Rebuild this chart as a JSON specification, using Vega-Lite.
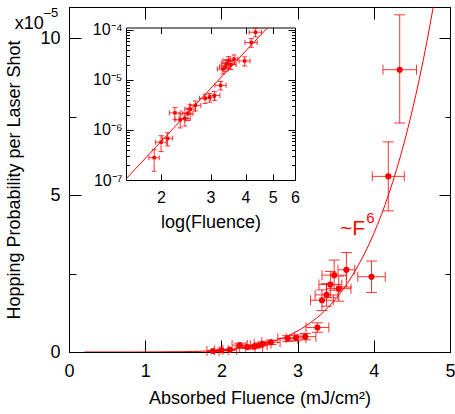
{
  "$schema": "https://vega.github.io/schema/vega-lite/v6.json",
  "width": 381,
  "height": 345,
  "autosize": {"type": "none"},
  "padding": {"left": 69, "top": 7, "right": 5, "bottom": 62},
  "background": "white",
  "config": {
    "view": {"stroke": "black", "strokeWidth": 1},
    "axis": {
      "grid": false,
      "domainColor": "black",
      "tickColor": "black",
      "labelColor": "black",
      "titleColor": "black",
      "labelFont": "Liberation Sans",
      "titleFont": "Liberation Sans",
      "titleFontWeight": "normal",
      "labelFlush": false,
      "labelOverlap": false,
      "domainWidth": 1,
      "tickWidth": 1
    },
    "text": {"font": "Liberation Sans"}
  },
  "datasets": {
    "pts": [
      {"F": 1.89, "P": 0.028, "Flo": 1.81, "Fhi": 1.97, "Plo": 0.015, "Phi": 0.041},
      {"F": 2.00, "P": 0.057, "Flo": 1.91, "Fhi": 2.09, "Plo": 0.037, "Phi": 0.077},
      {"F": 2.11, "P": 0.068, "Flo": 2.02, "Fhi": 2.20, "Plo": 0.048, "Phi": 0.088},
      {"F": 2.24, "P": 0.22, "Flo": 2.14, "Fhi": 2.34, "Plo": 0.16, "Phi": 0.28},
      {"F": 2.34, "P": 0.16, "Flo": 2.24, "Fhi": 2.44, "Plo": 0.11, "Phi": 0.21},
      {"F": 2.43, "P": 0.17, "Flo": 2.32, "Fhi": 2.54, "Plo": 0.12, "Phi": 0.22},
      {"F": 2.49, "P": 0.215, "Flo": 2.38, "Fhi": 2.60, "Plo": 0.155, "Phi": 0.275},
      {"F": 2.54, "P": 0.26, "Flo": 2.43, "Fhi": 2.65, "Plo": 0.20, "Phi": 0.32},
      {"F": 2.65, "P": 0.31, "Flo": 2.53, "Fhi": 2.77, "Plo": 0.24, "Phi": 0.38},
      {"F": 2.87, "P": 0.43, "Flo": 2.74, "Fhi": 3.00, "Plo": 0.34, "Phi": 0.52},
      {"F": 2.98, "P": 0.45, "Flo": 2.85, "Fhi": 3.11, "Plo": 0.36, "Phi": 0.54},
      {"F": 3.10, "P": 0.49, "Flo": 2.96, "Fhi": 3.24, "Plo": 0.39, "Phi": 0.59},
      {"F": 3.26, "P": 0.78, "Flo": 3.11, "Fhi": 3.41, "Plo": 0.63, "Phi": 0.93},
      {"F": 3.32, "P": 1.65, "Flo": 3.17, "Fhi": 3.47, "Plo": 1.32, "Phi": 1.98},
      {"F": 3.38, "P": 1.82, "Flo": 3.23, "Fhi": 3.53, "Plo": 1.46, "Phi": 2.18},
      {"F": 3.43, "P": 2.15, "Flo": 3.28, "Fhi": 3.58, "Plo": 1.73, "Phi": 2.57},
      {"F": 3.48, "P": 2.45, "Flo": 3.32, "Fhi": 3.64, "Plo": 1.97, "Phi": 2.93},
      {"F": 3.54, "P": 2.02, "Flo": 3.38, "Fhi": 3.70, "Plo": 1.62, "Phi": 2.42},
      {"F": 3.64, "P": 2.62, "Flo": 3.53, "Fhi": 3.75, "Plo": 2.07, "Phi": 3.17},
      {"F": 3.97, "P": 2.40, "Flo": 3.79, "Fhi": 4.15, "Plo": 1.90, "Phi": 2.90},
      {"F": 4.19, "P": 5.6, "Flo": 3.98, "Fhi": 4.40, "Plo": 4.5, "Phi": 6.7},
      {"F": 4.34, "P": 9.0, "Flo": 4.12, "Fhi": 4.56, "Plo": 7.3, "Phi": 10.75}
    ],
    "fit": [
      {"F": 0.2, "P": 0.0000001},
      {"F": 0.5, "P": 0.0000144},
      {"F": 1.0, "P": 0.000922},
      {"F": 1.5, "P": 0.0105},
      {"F": 2.0, "P": 0.0590},
      {"F": 2.25, "P": 0.1196},
      {"F": 2.5, "P": 0.2251},
      {"F": 2.75, "P": 0.3988},
      {"F": 3.0, "P": 0.6721},
      {"F": 3.2, "P": 0.9900},
      {"F": 3.4, "P": 1.4243},
      {"F": 3.6, "P": 2.0070},
      {"F": 3.8, "P": 2.7761},
      {"F": 4.0, "P": 3.7765},
      {"F": 4.1, "P": 4.3796},
      {"F": 4.2, "P": 5.0609},
      {"F": 4.3, "P": 5.8283},
      {"F": 4.4, "P": 6.6903},
      {"F": 4.5, "P": 7.6561},
      {"F": 4.6, "P": 8.7353},
      {"F": 4.7, "P": 9.9383},
      {"F": 4.8, "P": 11.2766}
    ],
    "insetfit": [
      {"F": 1.5, "P": 0.0105},
      {"F": 4.795, "P": 11.2}
    ],
    "fitlabel": [{"main": "~F", "exp": "6"}],
    "unitlabel": [{"main": "x10", "exp": "–5"}]
  },
  "layer": [
    {
      "layer": [
        {
          "data": {"name": "fit"},
          "mark": {"type": "line", "color": "#ff0000", "strokeWidth": 1, "clip": true, "interpolate": "monotone"},
          "encoding": {
            "x": {"field": "F", "type": "quantitative", "scale": {"domain": [0, 5]},
              "axis": {"orient": "bottom", "values": [0, 1, 2, 3, 4, 5], "tickSize": -12, "labelPadding": 22, "labelFontSize": 18, "title": "Absorbed Fluence (mJ/cm²)", "titleFontSize": 18, "titlePadding": 9}},
            "y": {"field": "P", "type": "quantitative", "scale": {"domain": [0, 11]},
              "axis": {"orient": "left", "values": [0, 5, 10], "tickSize": -12, "labelPadding": 21, "labelFontSize": 18, "title": "Hopping Probability per Laser Shot", "titleFontSize": 18, "titlePadding": 16}}
          }
        },
        {
          "data": {"name": "pts"},
          "mark": {"type": "rule", "color": "#ff0000", "strokeWidth": 1, "opacity": 0.8},
          "encoding": {
            "x": {"field": "Flo", "type": "quantitative", "scale": {"domain": [0, 5]},
              "axis": {"orient": "top", "values": [0, 1, 2, 3, 4, 5], "tickSize": -12, "labels": false, "title": null}},
            "x2": {"field": "Fhi"},
            "y": {"field": "P", "type": "quantitative", "scale": {"domain": [0, 11]},
              "axis": {"orient": "right", "values": [0, 5, 10], "tickSize": -11, "labels": false, "title": null}}
          }
        },
        {
          "data": {"name": "pts"},
          "mark": {"type": "rule", "color": "#ff0000", "strokeWidth": 1, "opacity": 0.8},
          "encoding": {
            "x": {"field": "F", "type": "quantitative", "scale": {"domain": [0, 5]}, "axis": null},
            "y": {"field": "Plo", "type": "quantitative", "scale": {"domain": [0, 11]},
              "axis": {"orient": "left", "values": [2.5, 7.5], "tickSize": -7, "labels": false, "domain": false, "title": null}},
            "y2": {"field": "Phi"}
          }
        },
        {
          "data": {"name": "pts"},
          "mark": {"type": "tick", "orient": "vertical", "color": "#ff0000", "size": 10, "thickness": 1, "opacity": 0.8},
          "encoding": {
            "x": {"field": "Flo", "type": "quantitative", "scale": {"domain": [0, 5]}, "axis": null},
            "y": {"field": "P", "type": "quantitative", "scale": {"domain": [0, 11]},
              "axis": {"orient": "right", "values": [2.5, 7.5], "tickSize": -5, "labels": false, "domain": false, "title": null}}
          }
        },
        {
          "data": {"name": "pts"},
          "mark": {"type": "tick", "orient": "vertical", "color": "#ff0000", "size": 10, "thickness": 1, "opacity": 0.8},
          "encoding": {
            "x": {"field": "Fhi", "type": "quantitative", "scale": {"domain": [0, 5]}, "axis": null},
            "y": {"field": "P", "type": "quantitative", "scale": {"domain": [0, 11]}, "axis": null}
          }
        },
        {
          "data": {"name": "pts"},
          "mark": {"type": "tick", "orient": "horizontal", "color": "#ff0000", "size": 11, "thickness": 1, "opacity": 0.8},
          "encoding": {
            "x": {"field": "F", "type": "quantitative", "scale": {"domain": [0, 5]}, "axis": null},
            "y": {"field": "Plo", "type": "quantitative", "scale": {"domain": [0, 11]}, "axis": null}
          }
        },
        {
          "data": {"name": "pts"},
          "mark": {"type": "tick", "orient": "horizontal", "color": "#ff0000", "size": 11, "thickness": 1, "opacity": 0.8},
          "encoding": {
            "x": {"field": "F", "type": "quantitative", "scale": {"domain": [0, 5]}, "axis": null},
            "y": {"field": "Phi", "type": "quantitative", "scale": {"domain": [0, 11]}, "axis": null}
          }
        },
        {
          "data": {"name": "pts"},
          "mark": {"type": "circle", "color": "#ff0000", "size": 38, "opacity": 1},
          "encoding": {
            "x": {"field": "F", "type": "quantitative", "scale": {"domain": [0, 5]}, "axis": null},
            "y": {"field": "P", "type": "quantitative", "scale": {"domain": [0, 11]}, "axis": null}
          }
        },
        {
          "data": {"name": "fitlabel"},
          "mark": {"type": "text", "color": "#ff0000", "fontSize": 21, "align": "right", "baseline": "alphabetic"},
          "encoding": {
            "x": {"datum": 3.885, "type": "quantitative", "scale": {"domain": [0, 5]}, "axis": null},
            "y": {"datum": 3.74, "type": "quantitative", "scale": {"domain": [0, 11]}, "axis": null},
            "text": {"field": "main"}
          }
        },
        {
          "data": {"name": "fitlabel"},
          "mark": {"type": "text", "color": "#ff0000", "fontSize": 15, "align": "left", "baseline": "alphabetic"},
          "encoding": {
            "x": {"datum": 3.9, "type": "quantitative", "scale": {"domain": [0, 5]}, "axis": null},
            "y": {"datum": 4.12, "type": "quantitative", "scale": {"domain": [0, 11]}, "axis": null},
            "text": {"field": "exp"}
          }
        },
        {
          "data": {"name": "unitlabel"},
          "mark": {"type": "text", "color": "black", "fontSize": 18, "align": "right", "baseline": "alphabetic"},
          "encoding": {
            "x": {"datum": -0.33, "type": "quantitative", "scale": {"domain": [0, 5]}, "axis": null},
            "y": {"datum": 10.3, "type": "quantitative", "scale": {"domain": [0, 11]}, "axis": null},
            "text": {"field": "main"}
          }
        },
        {
          "data": {"name": "unitlabel"},
          "mark": {"type": "text", "color": "black", "fontSize": 13, "align": "left", "baseline": "alphabetic"},
          "encoding": {
            "x": {"datum": -0.33, "type": "quantitative", "scale": {"domain": [0, 5]}, "axis": null},
            "y": {"datum": 10.68, "type": "quantitative", "scale": {"domain": [0, 11]}, "axis": null},
            "text": {"field": "exp"}
          }
        }
      ],
      "resolve": {"axis": {"x": "independent", "y": "independent"}}
    },
    {
      "layer": [
        {
          "data": {"name": "insetfit"},
          "mark": {"type": "line", "color": "#ff0000", "strokeWidth": 1},
          "encoding": {
            "x": {"field": "F", "type": "quantitative", "scale": {"type": "log", "domain": [1.5, 6], "range": [57, 226]},
              "axis": {"orient": "bottom", "offset": -172, "values": [2, 3, 4, 5, 6], "format": "d", "tickSize": -6, "labelPadding": 15, "labelFontSize": 16, "title": "log(Fluence)", "titleFontSize": 18, "titlePadding": 8}},
            "y": {"field": "P", "type": "quantitative", "scale": {"type": "log", "domain": [0.01, 11.2], "range": [173, 20.5]},
              "axis": {"orient": "left", "offset": -57, "values": [0.01, 0.1, 1, 10], "tickSize": -7, "labelPadding": 11, "labelFontSize": 16, "labelExpr": "datum.value >= 5 ? '10⁻⁴' : datum.value >= 0.5 ? '10⁻⁵' : datum.value >= 0.05 ? '10⁻⁶' : '10⁻⁷'", "title": null}}
          }
        },
        {
          "data": {"name": "pts"},
          "mark": {"type": "rule", "color": "#ff0000", "strokeWidth": 1, "opacity": 0.8},
          "encoding": {
            "x": {"field": "Flo", "type": "quantitative", "scale": {"type": "log", "domain": [1.5, 6], "range": [57, 226]},
              "axis": {"orient": "top", "offset": -20.5, "values": [2, 3, 4, 5, 6], "tickSize": -6, "labels": false, "title": null}},
            "x2": {"field": "Fhi"},
            "y": {"field": "P", "type": "quantitative", "scale": {"type": "log", "domain": [0.01, 11.2], "range": [173, 20.5]},
              "axis": {"orient": "right", "offset": -155, "values": [0.01, 0.1, 1, 10], "tickSize": -7, "labels": false, "title": null}}
          }
        },
        {
          "data": {"name": "pts"},
          "mark": {"type": "rule", "color": "#ff0000", "strokeWidth": 1, "opacity": 0.8},
          "encoding": {
            "x": {"field": "F", "type": "quantitative", "scale": {"type": "log", "domain": [1.5, 6], "range": [57, 226]}, "axis": null},
            "y": {"field": "Plo", "type": "quantitative", "scale": {"type": "log", "domain": [0.01, 11.2], "range": [173, 20.5]},
              "axis": {"orient": "left", "offset": -57, "values": [0.02, 0.03, 0.04, 0.05, 0.06, 0.07, 0.08, 0.09, 0.2, 0.3, 0.4, 0.5, 0.6, 0.7, 0.8, 0.9, 2, 3, 4, 5, 6, 7, 8, 9], "tickSize": -3.5, "labels": false, "domain": false, "title": null}},
            "y2": {"field": "Phi"}
          }
        },
        {
          "data": {"name": "pts"},
          "mark": {"type": "tick", "orient": "vertical", "color": "#ff0000", "size": 5, "thickness": 1, "opacity": 0.8},
          "encoding": {
            "x": {"field": "Flo", "type": "quantitative", "scale": {"type": "log", "domain": [1.5, 6], "range": [57, 226]}, "axis": null},
            "y": {"field": "P", "type": "quantitative", "scale": {"type": "log", "domain": [0.01, 11.2], "range": [173, 20.5]},
              "axis": {"orient": "right", "offset": -155, "values": [0.02, 0.03, 0.04, 0.05, 0.06, 0.07, 0.08, 0.09, 0.2, 0.3, 0.4, 0.5, 0.6, 0.7, 0.8, 0.9, 2, 3, 4, 5, 6, 7, 8, 9], "tickSize": -3.5, "labels": false, "domain": false, "title": null}}
          }
        },
        {
          "data": {"name": "pts"},
          "mark": {"type": "tick", "orient": "vertical", "color": "#ff0000", "size": 5, "thickness": 1, "opacity": 0.8},
          "encoding": {
            "x": {"field": "Fhi", "type": "quantitative", "scale": {"type": "log", "domain": [1.5, 6], "range": [57, 226]}, "axis": null},
            "y": {"field": "P", "type": "quantitative", "scale": {"type": "log", "domain": [0.01, 11.2], "range": [173, 20.5]}, "axis": null}
          }
        },
        {
          "data": {"name": "pts"},
          "mark": {"type": "tick", "orient": "horizontal", "color": "#ff0000", "size": 5, "thickness": 1, "opacity": 0.8},
          "encoding": {
            "x": {"field": "F", "type": "quantitative", "scale": {"type": "log", "domain": [1.5, 6], "range": [57, 226]}, "axis": null},
            "y": {"field": "Plo", "type": "quantitative", "scale": {"type": "log", "domain": [0.01, 11.2], "range": [173, 20.5]}, "axis": null}
          }
        },
        {
          "data": {"name": "pts"},
          "mark": {"type": "tick", "orient": "horizontal", "color": "#ff0000", "size": 5, "thickness": 1, "opacity": 0.8},
          "encoding": {
            "x": {"field": "F", "type": "quantitative", "scale": {"type": "log", "domain": [1.5, 6], "range": [57, 226]}, "axis": null},
            "y": {"field": "Phi", "type": "quantitative", "scale": {"type": "log", "domain": [0.01, 11.2], "range": [173, 20.5]}, "axis": null}
          }
        },
        {
          "data": {"name": "pts"},
          "mark": {"type": "square", "color": "#ff0000", "size": 12, "opacity": 1},
          "encoding": {
            "x": {"field": "F", "type": "quantitative", "scale": {"type": "log", "domain": [1.5, 6], "range": [57, 226]}, "axis": null},
            "y": {"field": "P", "type": "quantitative", "scale": {"type": "log", "domain": [0.01, 11.2], "range": [173, 20.5]}, "axis": null}
          }
        }
      ],
      "resolve": {"axis": {"x": "independent", "y": "independent"}}
    }
  ],
  "resolve": {"scale": {"x": "independent", "y": "independent"}}
}
